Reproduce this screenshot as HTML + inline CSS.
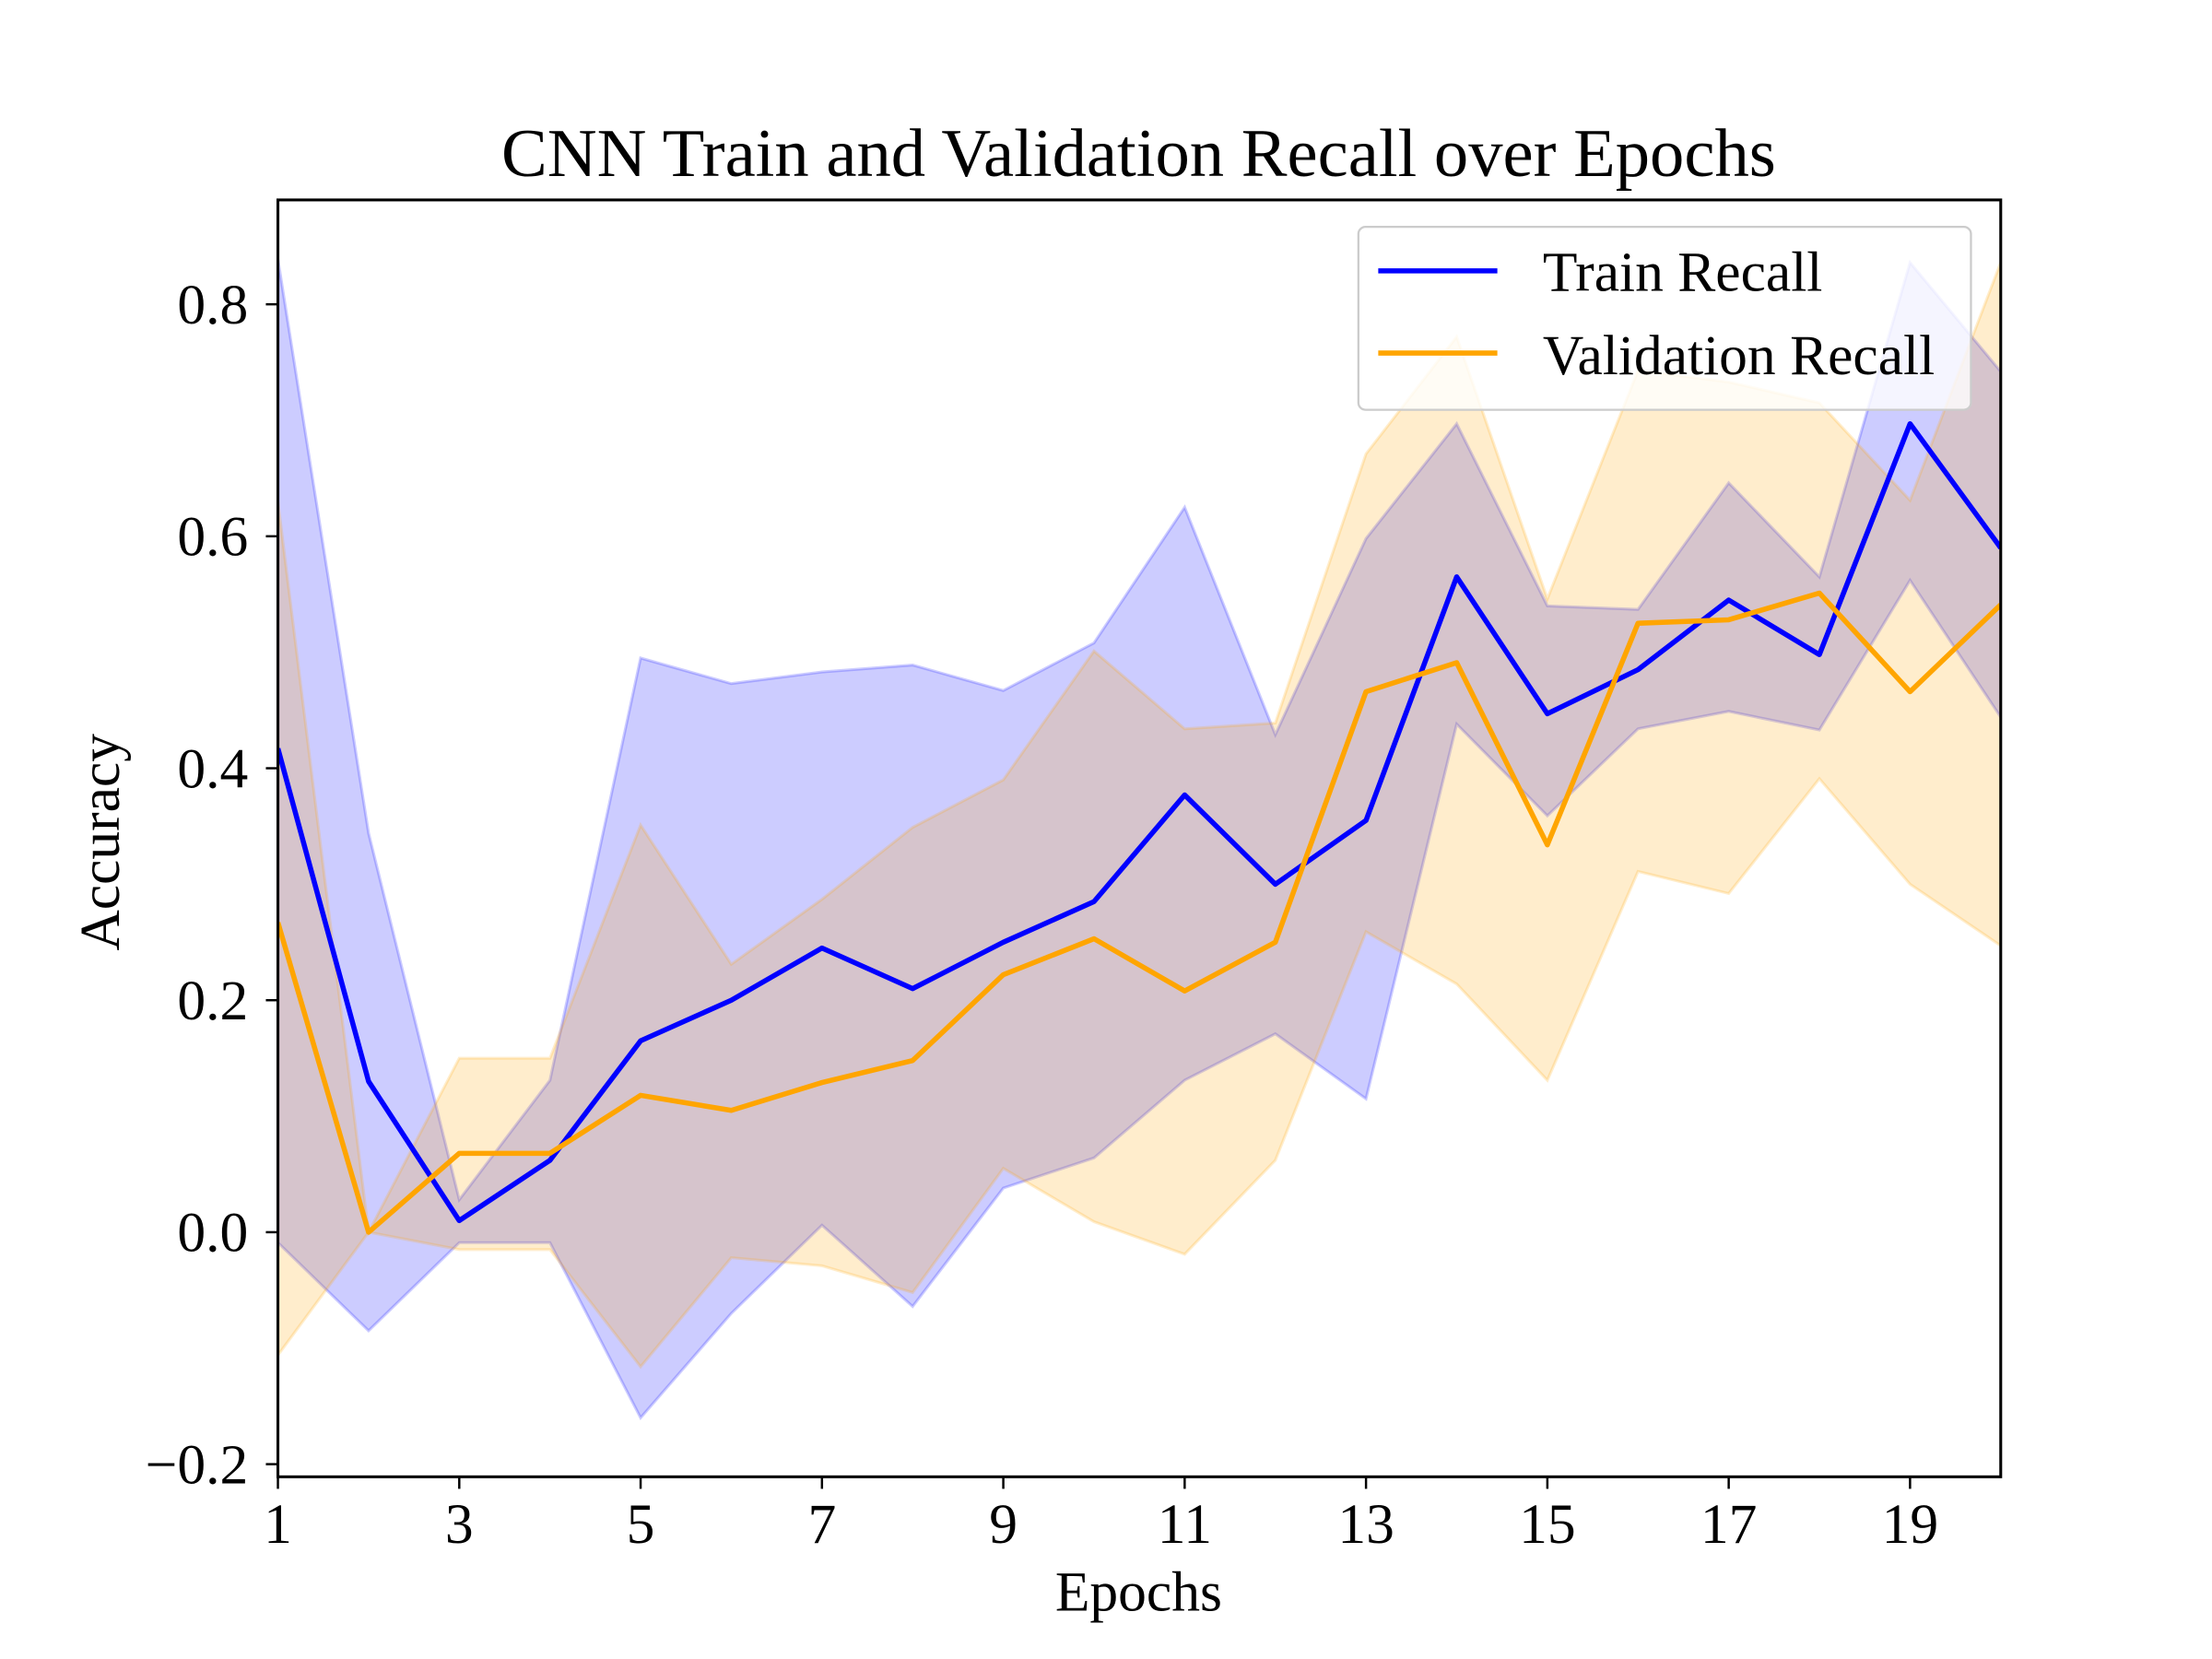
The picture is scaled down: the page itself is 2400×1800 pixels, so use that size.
<!DOCTYPE html>
<html><head><meta charset="utf-8"><style>
html,body{margin:0;padding:0;background:#fff;}
svg{display:block;}
text{font-family:"Liberation Serif","DejaVu Serif",serif;fill:#000;}
</style></head><body>
<svg id="chart" width="2400" height="1800" viewBox="0 0 1560 1170" xmlns="http://www.w3.org/2000/svg">
<defs><clipPath id="plotclip"><rect x="196" y="141" width="1215" height="900.5"/></clipPath></defs>
<rect width="1560" height="1170" fill="#fff"/>
<text x="803" y="124" font-size="48.5" text-anchor="middle">CNN Train and Validation Recall over Epochs</text>
<g id="bands" clip-path="url(#plotclip)"></g>
<g id="lines" clip-path="url(#plotclip)"></g>
<rect x="196" y="141" width="1215" height="900.5" fill="none" stroke="#000" stroke-width="2"/>
<g id="xticks"></g>
<g id="yticks"></g>
<text x="803" y="1136" font-size="40" text-anchor="middle">Epochs</text>
<text x="84" y="594" font-size="40" text-anchor="middle" transform="rotate(-90 84 594)">Accuracy</text>
<g>
<rect x="958" y="160" width="432" height="129" rx="5" fill="#fff" fill-opacity="0.8" stroke="#ccc" stroke-width="1.5"/>
<line x1="972" y1="191" x2="1056" y2="191" stroke="#0000ff" stroke-width="3.6"/>
<text x="1088" y="205" font-size="40">Train Recall</text>
<line x1="972" y1="249" x2="1056" y2="249" stroke="#ffa500" stroke-width="3.6"/>
<text x="1088" y="264" font-size="40">Validation Recall</text>
</g>
</svg>
<script>
const epochs = [1,2,3,4,5,6,7,8,9,10,11,12,13,14,15,16,17,18,19,20];
const trainMean = [0.417,0.13,0.01,0.062,0.165,0.2,0.245,0.21,0.25,0.285,0.377,0.3,0.355,0.565,0.447,0.485,0.545,0.498,0.697,0.59];
const trainUpper = [0.839,0.344,0.028,0.131,0.495,0.473,0.483,0.489,0.467,0.508,0.625,0.429,0.598,0.697,0.54,0.537,0.646,0.565,0.836,0.742];
const trainLower = [-0.009,-0.085,-0.009,-0.009,-0.16,-0.07,0.006,-0.064,0.038,0.064,0.131,0.171,0.115,0.438,0.359,0.434,0.449,0.433,0.562,0.444];
const valMean = [0.267,0.0,0.068,0.068,0.118,0.105,0.129,0.148,0.222,0.253,0.208,0.25,0.466,0.491,0.334,0.525,0.528,0.551,0.466,0.541];
const valUpper = [0.63,0.0,0.15,0.15,0.351,0.231,0.287,0.349,0.39,0.501,0.434,0.439,0.671,0.772,0.546,0.743,0.733,0.715,0.631,0.836];
const valLower = [-0.106,0.0,-0.015,-0.015,-0.116,-0.022,-0.029,-0.052,0.055,0.009,-0.019,0.062,0.259,0.214,0.131,0.311,0.292,0.391,0.3,0.247];
const xTickValues = [1,3,5,7,9,11,13,15,17,19];
const yTickValues = [-0.2,0.0,0.2,0.4,0.6,0.8];
const yTickLabels = ["\u22120.2","0.0","0.2","0.4","0.6","0.8"];

const NS = "http://www.w3.org/2000/svg";
function xScale(v){ return 196 + (v - 1) * (1411 - 196) / 19; }
function yScale(v){ return 869 - v * 818; }
function mk(tag, attrs, parent){
  const e = document.createElementNS(NS, tag);
  for (const k in attrs) e.setAttribute(k, attrs[k]);
  parent.appendChild(e); return e;
}
function band(up, lo, color, name){
  let d = "";
  epochs.forEach((x,i)=>{ d += (i?"L":"M") + xScale(x) + "," + yScale(up[i]); });
  for (let i = epochs.length-1; i >= 0; i--) d += "L" + xScale(epochs[i]) + "," + yScale(lo[i]);
  const p = mk("path", {d: d + "Z", fill: color, "fill-opacity": 0.2, stroke: color, "stroke-opacity": 0.2, "stroke-width": 2}, document.getElementById("bands"));
  
  
}
function line(vals, color, name){
  const pts = epochs.map((x,i)=> xScale(x) + "," + yScale(vals[i])).join(" ");
  const p = mk("polyline", {points: pts, fill: "none", stroke: color, "stroke-width": 3.6, "stroke-linejoin": "round"}, document.getElementById("lines"));
  
  
}
band(trainUpper, trainLower, "#0000ff", "train-recall-band");
band(valUpper, valLower, "#ffa500", "validation-recall-band");
line(trainMean, "#0000ff", "train-recall-line");
line(valMean, "#ffa500", "validation-recall-line");

const xg = document.getElementById("xticks");
xTickValues.forEach(v=>{
  const x = xScale(v);
  const t = mk("line", {x1:x, y1:1041.5, x2:x, y2:1050, stroke:"#000", "stroke-width":1.6}, xg);
  
  
  const l = mk("text", {x:x, y:1088, "font-size":40, "text-anchor":"middle"}, xg);
  l.textContent = String(v);
  
  
});
const yg = document.getElementById("yticks");
yTickValues.forEach((v,i)=>{
  const y = yScale(v);
  const t = mk("line", {x1:187.5, y1:y, x2:196, y2:y, stroke:"#000", "stroke-width":1.6}, yg);
  
  
  const l = mk("text", {x:175, y:y+13.5, "font-size":40, "text-anchor":"end"}, yg);
  l.textContent = yTickLabels[i];
  
  
});
</script>
</body></html>
